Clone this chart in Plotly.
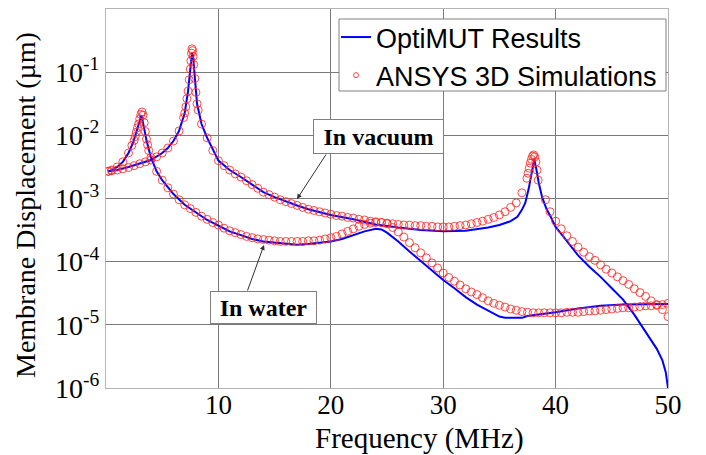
import plotly.graph_objects as go

# ---------------- data (frequency in MHz, displacement in µm) ----------------
vac_line_f = [0.2, 1, 2, 3, 4, 5, 5.5, 6, 6.5, 7, 7.3, 7.5, 7.65, 7.75, 7.9, 8.1, 8.5, 9, 10, 11, 12, 13,
              14, 15, 16, 17, 18, 19, 20, 22, 24, 26, 28, 30, 32, 34, 35, 36, 36.6, 37, 37.3, 37.6, 37.9,
              38.1, 38.3, 38.5, 38.8, 39.2, 39.6, 40, 40.5, 41, 42, 43, 44, 45, 46, 47, 48, 48.5, 49,
              49.5, 49.8, 50]
vac_line_d = [2.69e-3, 2.82e-3, 3.16e-3, 3.55e-3, 4.07e-3, 5.25e-3, 6.31e-3, 8.13e-3, 1.175e-2, 2.24e-2,
              5.01e-2, 0.112, 0.200, 0.178, 7.94e-2, 3.16e-2, 1.51e-2, 9.12e-3, 3.98e-3, 2.82e-3, 2.19e-3,
              1.66e-3, 1.26e-3, 1.05e-3, 8.91e-4, 7.76e-4, 6.76e-4, 6.03e-4, 5.50e-4, 4.68e-4, 3.89e-4,
              3.47e-4, 3.16e-4, 3.02e-4, 3.09e-4, 3.47e-4, 3.80e-4, 4.37e-4, 5.13e-4, 6.61e-4, 8.51e-4,
              1.41e-3, 2.82e-3, 4.17e-3, 2.82e-3, 1.78e-3, 1.05e-3, 6.76e-4, 5.01e-4, 3.55e-4, 2.75e-4,
              2.09e-4, 1.26e-4, 8.32e-5, 5.75e-5, 3.80e-5, 2.51e-5, 1.45e-5, 7.94e-6, 5.75e-6, 4.17e-6,
              2.75e-6, 1.78e-6, 1.0e-6]

wat_line_f = [0.2, 0.5, 1.0, 1.5, 2.0, 2.4, 2.7, 2.95, 3.15, 3.35, 3.6, 4.0, 4.5, 5, 6, 7, 8, 9, 10, 11,
              12, 13, 14, 15, 16, 17, 18, 19, 20, 21, 22, 23, 24, 24.5, 25, 26, 27, 28, 29, 30, 31, 32,
              33, 34, 35, 35.5, 37, 37.5, 38.5, 40, 42, 44, 46, 50]
wat_line_d = [2.69e-3, 2.82e-3, 3.16e-3, 3.80e-3, 5.25e-3, 7.59e-3, 1.12e-2, 1.58e-2, 2.09e-2, 1.41e-2,
              8.32e-3, 4.47e-3, 2.69e-3, 1.95e-3, 1.175e-3, 7.94e-4, 6.03e-4, 4.57e-4, 3.72e-4, 3.02e-4,
              2.63e-4, 2.29e-4, 2.09e-4, 2.00e-4, 1.91e-4, 1.86e-4, 1.91e-4, 2.00e-4, 2.09e-4, 2.29e-4,
              2.63e-4, 3.02e-4, 3.31e-4, 3.24e-4, 2.88e-4, 2.09e-4, 1.45e-4, 1.02e-4, 7.24e-5, 5.13e-5,
              3.80e-5, 2.75e-5, 2.09e-5, 1.66e-5, 1.35e-5, 1.29e-5, 1.29e-5, 1.38e-5, 1.45e-5, 1.58e-5,
              1.82e-5, 2.00e-5, 2.09e-5, 2.14e-5]

vac_sim_f = [0.2, 0.5, 1.0, 1.5, 2.0, 2.5, 3.0, 3.5, 4.0, 4.5, 5.0, 5.5, 6.0, 6.5, 6.9, 7.0, 7.1, 7.2, 7.3,
             7.4, 7.5, 7.55, 7.6, 7.65, 7.7, 7.75, 7.8, 7.9, 8.0, 8.1, 8.2, 8.5, 9.0, 9.5, 10.0, 10.5,
             11.0, 11.5, 12.0, 12.5, 13.0, 13.5, 14.0, 14.5, 15.0, 15.5, 16.0, 16.5, 17.0, 17.5, 18.0,
             18.5, 19.0, 19.5, 20.0, 20.5, 21.0, 21.5, 22.0, 22.5, 23.0, 23.5, 24.0, 24.5, 25.0, 25.5,
             26.0, 26.5, 27.0, 27.5, 28.0, 28.5, 29.0, 29.5, 30.0, 30.5, 31.0, 31.5, 32.0, 32.5, 33.0,
             33.5, 34.0, 34.5, 35.0, 35.5, 36.0, 36.5, 37.0, 37.45, 37.55, 37.65, 37.75, 37.85, 37.95,
             38.05, 38.15, 38.25, 38.35, 38.45, 39.1, 39.5, 40.0, 40.5, 41.0, 41.5, 42.0, 42.5, 43.0,
             43.5, 44.0, 44.5, 45.0, 45.5, 46.0, 46.5, 47.0, 47.5, 48.0, 48.5, 49.0, 49.5, 50.0]
vac_sim_d = [2.69e-3, 2.75e-3, 2.82e-3, 2.95e-3, 3.09e-3, 3.31e-3, 3.55e-3, 3.80e-3, 4.07e-3, 4.57e-3,
             5.25e-3, 6.31e-3, 8.13e-3, 1.175e-2, 1.91e-2, 2.24e-2, 2.82e-2, 3.80e-2, 5.01e-2, 7.59e-2,
             0.112, 0.151, 0.200, 0.234, 0.219, 0.178, 0.132, 7.94e-2, 4.79e-2, 3.16e-2, 2.51e-2,
             1.51e-2, 9.12e-3, 5.75e-3, 3.98e-3, 3.31e-3, 2.82e-3, 2.45e-3, 2.19e-3, 1.91e-3, 1.66e-3,
             1.45e-3, 1.26e-3, 1.15e-3, 1.05e-3, 9.55e-4, 8.91e-4, 8.32e-4, 7.76e-4, 7.24e-4, 6.76e-4,
             6.46e-4, 6.17e-4, 5.89e-4, 5.62e-4, 5.37e-4, 5.25e-4, 5.01e-4, 4.90e-4, 4.68e-4, 4.57e-4,
             4.37e-4, 4.27e-4, 4.17e-4, 4.07e-4, 3.98e-4, 3.89e-4, 3.80e-4, 3.80e-4, 3.72e-4, 3.72e-4,
             3.63e-4, 3.63e-4, 3.55e-4, 3.55e-4, 3.55e-4, 3.63e-4, 3.72e-4, 3.80e-4, 3.98e-4, 4.17e-4,
             4.37e-4, 4.68e-4, 5.01e-4, 5.50e-4, 6.17e-4, 7.24e-4, 8.51e-4, 1.23e-3, 2.09e-3, 2.51e-3,
             3.02e-3, 3.63e-3, 4.17e-3, 4.68e-3, 4.90e-3, 4.57e-3, 3.80e-3, 2.82e-3, 1.95e-3, 9.55e-4,
             6.17e-4, 4.37e-4, 3.31e-4, 2.57e-4, 2.09e-4, 1.70e-4, 1.41e-4, 1.20e-4, 1.05e-4, 8.91e-5,
             7.59e-5, 6.61e-5, 5.75e-5, 5.01e-5, 4.37e-5, 3.72e-5, 3.24e-5, 2.82e-5, 2.40e-5, 2.09e-5,
             1.74e-5, 1.35e-5]

wat_sim_f = [0.2, 0.5, 1.0, 1.5, 2.0, 2.3, 2.5, 2.6, 2.7, 2.8, 2.9, 3.0, 3.1, 3.2, 3.3, 3.4, 3.5, 3.6,
             3.7, 3.8, 4.0, 4.5, 5.0, 5.5, 6.0, 6.5, 7.0, 7.5, 8.0, 8.5, 9.0, 9.5, 10.0, 10.5, 11.0,
             11.5, 12.0, 12.5, 13.0, 13.5, 14.0, 14.5, 15.0, 15.5, 16.0, 16.5, 17.0, 17.5, 18.0, 18.5,
             19.0, 19.5, 20.0, 20.5, 21.0, 21.5, 22.0, 22.5, 23.0, 23.5, 24.0, 24.5, 25.0, 25.5, 26.0,
             26.5, 27.0, 27.5, 28.0, 28.5, 29.0, 29.5, 30.0, 30.5, 31.0, 31.5, 32.0, 32.5, 33.0, 33.5,
             34.0, 34.5, 35.0, 35.5, 36.0, 36.5, 37.0, 37.5, 38.0, 38.5, 39.0, 39.5, 40.0, 40.5, 41.0,
             41.5, 42.0, 42.5, 43.0, 43.5, 44.0, 44.5, 45.0, 45.5, 46.0, 46.5, 47.0, 47.5, 48.0, 48.5,
             49.0, 49.5, 50.0]
wat_sim_d = [2.69e-3, 2.82e-3, 3.16e-3, 3.80e-3, 5.25e-3, 6.92e-3, 8.32e-3, 9.55e-3, 1.12e-2, 1.32e-2,
             1.51e-2, 1.82e-2, 2.14e-2, 2.34e-2, 2.09e-2, 1.58e-2, 1.15e-2, 8.71e-3, 7.08e-3, 5.75e-3,
             4.47e-3, 2.69e-3, 1.95e-3, 1.48e-3, 1.175e-3, 9.55e-4, 7.94e-4, 6.92e-4, 6.03e-4, 5.25e-4,
             4.68e-4, 4.17e-4, 3.80e-4, 3.39e-4, 3.09e-4, 2.88e-4, 2.69e-4, 2.51e-4, 2.40e-4, 2.29e-4,
             2.24e-4, 2.19e-4, 2.14e-4, 2.09e-4, 2.09e-4, 2.09e-4, 2.09e-4, 2.09e-4, 2.14e-4, 2.14e-4,
             2.19e-4, 2.29e-4, 2.40e-4, 2.51e-4, 2.75e-4, 3.02e-4, 3.31e-4, 3.63e-4, 3.89e-4, 4.07e-4,
             4.17e-4, 4.17e-4, 3.98e-4, 3.47e-4, 2.95e-4, 2.45e-4, 2.00e-4, 1.66e-4, 1.38e-4, 1.15e-4,
             9.55e-5, 7.94e-5, 6.61e-5, 5.62e-5, 4.90e-5, 4.27e-5, 3.72e-5, 3.31e-5, 3.02e-5, 2.69e-5,
             2.40e-5, 2.19e-5, 2.04e-5, 1.91e-5, 1.78e-5, 1.70e-5, 1.62e-5, 1.58e-5, 1.55e-5, 1.55e-5,
             1.55e-5, 1.55e-5, 1.55e-5, 1.55e-5, 1.58e-5, 1.58e-5, 1.58e-5, 1.62e-5, 1.66e-5, 1.66e-5,
             1.70e-5, 1.74e-5, 1.78e-5, 1.82e-5, 1.86e-5, 1.86e-5, 1.91e-5, 1.95e-5, 2.00e-5, 2.00e-5,
             2.04e-5, 2.09e-5, 2.19e-5]

x_tickvals = [10, 20, 30, 40, 50]
y_tickvals = [1e-6, 1e-5, 1e-4, 1e-3, 1e-2, 1e-1, 1]
y_ticktext = ["10<sup>-6</sup>", "10<sup>-5</sup>", "10<sup>-4</sup>", "10<sup>-3</sup>",
              "10<sup>-2</sup>", "10<sup>-1</sup>", "1"]

SERIF = "Liberation Serif, Times New Roman, serif"
SANS = "Liberation Sans, Arial, sans-serif"
BLUE = "#0000ff"
RED = "rgba(255,40,40,0.85)"

# plot area in pixels: x 106..668, y 9..388
L, R, T, B = 106, 668, 9, 388
def px(x):
    return (x - L) / (R - L)
def py(y):
    return (B - y) / (B - T)

fig = go.Figure()
fig.add_trace(go.Scatter(
    x=vac_line_f + [None] + wat_line_f,
    y=vac_line_d + [None] + wat_line_d,
    mode="lines", name="OptiMUT Results", showlegend=False,
    line=dict(color=BLUE, width=2),
))
fig.add_trace(go.Scatter(
    x=vac_sim_f + wat_sim_f,
    y=vac_sim_d + wat_sim_d,
    mode="markers", name="ANSYS 3D Simulations", showlegend=False,
    marker=dict(symbol="circle-open", size=8, color=RED, line=dict(width=1)),
))
# legend entries (no data of their own)
fig.add_trace(go.Scatter(x=[None], y=[None], mode="lines", name="OptiMUT Results",
                         line=dict(color=BLUE, width=2)))
fig.add_trace(go.Scatter(x=[None], y=[None], mode="markers", name="ANSYS 3D Simulations",
                         marker=dict(symbol="circle-open", size=5, color=RED, line=dict(width=1))))

fig.update_layout(
    width=706, height=455,
    margin=dict(l=L, r=706 - R, t=T, b=455 - B),
    paper_bgcolor="white", plot_bgcolor="white",
    showlegend=True,
    legend=dict(
        x=px(336), y=py(13), xanchor="left", yanchor="top",
        bgcolor="rgba(0,0,0,0)", borderwidth=0,
        font=dict(family=SANS, size=27, color="black"),
        tracegroupgap=0, itemwidth=30,
    ),
    xaxis=dict(
        range=[0, 50], tickvals=x_tickvals, ticktext=[str(v) for v in x_tickvals],
        showgrid=True, gridcolor="#7a7a7a", gridwidth=1,
        showline=True, linecolor="#b4b4b4", linewidth=1, mirror=True,
        ticks="", zeroline=False, ticklabelstandoff=-7,
        tickfont=dict(family=SERIF, size=27, color="black"),
    ),
    yaxis=dict(
        type="log", range=[-6, 0], tickvals=y_tickvals, ticktext=y_ticktext,
        showgrid=True, gridcolor="#7a7a7a", gridwidth=1,
        showline=True, linecolor="#b4b4b4", linewidth=1, mirror=True,
        ticks="", zeroline=False,
        tickfont=dict(family=SERIF, size=28, color="black"),
    ),
    shapes=[
        dict(type="rect", xref="paper", yref="paper",
             x0=px(339), x1=px(666), y0=py(19), y1=py(91),
             fillcolor="white", line=dict(color="#808080", width=1), layer="above"),
    ],
    annotations=[
        dict(text="Frequency (MHz)", xref="paper", yref="paper",
             x=px(313), y=py(438), xanchor="left", yanchor="middle",
             showarrow=False, font=dict(family=SERIF, size=29, color="black")),
        dict(text="Membrane Displacement (µm)", xref="paper", yref="paper",
             x=px(25), y=py(205), xanchor="center", yanchor="middle",
             textangle=-90, showarrow=False, font=dict(family=SERIF, size=28, color="black")),
        # arrows
        dict(text="", xref="paper", yref="paper",
             x=px(297), y=py(199), ax=30, ay=-46,
             showarrow=True, arrowhead=2, arrowsize=1, arrowwidth=1, arrowcolor="#303030"),
        dict(text="", xref="paper", yref="paper",
             x=px(264), y=py(245), ax=-17, ay=47,
             showarrow=True, arrowhead=2, arrowsize=1, arrowwidth=1, arrowcolor="#303030"),
        # label boxes
        dict(text="<b>In vacuum</b>", xref="paper", yref="paper",
             x=px(378.5), y=py(136.5), xanchor="center", yanchor="middle",
             showarrow=False, bgcolor="white", bordercolor="#808080", borderwidth=1,
             borderpad=2, width=125, height=29,
             font=dict(family=SERIF, size=24, color="black")),
        dict(text="<b>In water</b>", xref="paper", yref="paper",
             x=px(263.5), y=py(307.5), xanchor="center", yanchor="middle",
             showarrow=False, bgcolor="white", bordercolor="#808080", borderwidth=1,
             borderpad=2, width=101, height=27,
             font=dict(family=SERIF, size=24, color="black")),
    ],
)

fig.write_html("out.html")
